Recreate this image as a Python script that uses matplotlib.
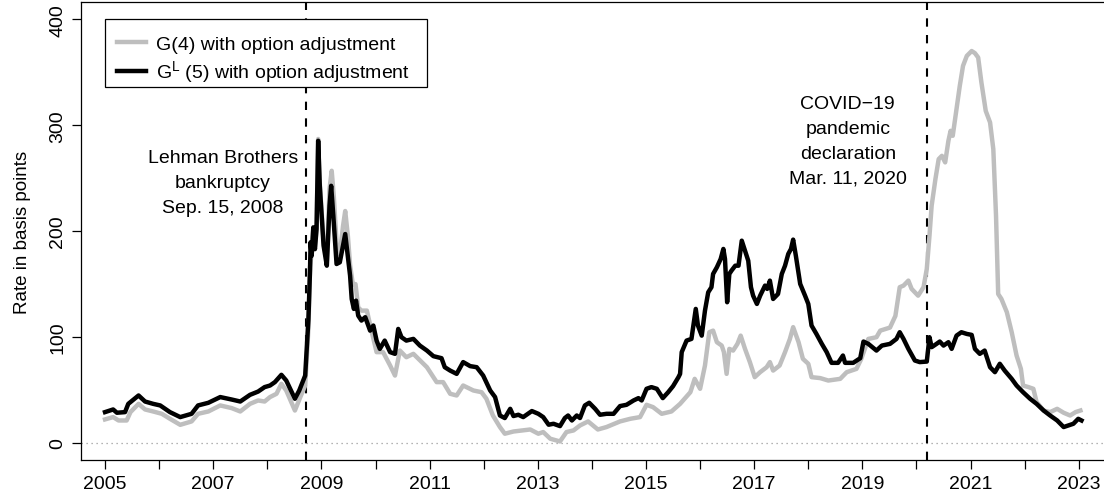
import matplotlib
matplotlib.use('Agg')
import matplotlib.pyplot as plt
from matplotlib.patches import Rectangle

plt.rcParams['font.family'] = ['Liberation Sans', 'DejaVu Sans']
plt.rcParams['mathtext.fontset'] = 'custom'
plt.rcParams['mathtext.rm'] = 'Liberation Sans'
plt.rcParams['mathtext.it'] = 'Liberation Sans:italic'

# G(4) with option adjustment (bp)
g4_t = [2005.00, 2005.15, 2005.25, 2005.40, 2005.47, 2005.62, 2005.74, 2005.89, 2006.05, 2006.20,
        2006.39, 2006.60, 2006.72, 2006.91, 2007.13, 2007.34, 2007.50, 2007.68, 2007.83, 2007.95,
        2008.05, 2008.17, 2008.26, 2008.35, 2008.51, 2008.61, 2008.70, 2008.76, 2008.79, 2008.82,
        2008.85, 2008.88, 2008.91, 2008.94, 2008.97, 2009.04, 2009.10, 2009.15, 2009.19, 2009.23,
        2009.29, 2009.34, 2009.40, 2009.44, 2009.49, 2009.53, 2009.58, 2009.63, 2009.68, 2009.74,
        2009.84, 2009.93, 2010.02, 2010.14, 2010.27, 2010.36, 2010.45, 2010.57, 2010.70, 2010.95,
        2011.13, 2011.25, 2011.38, 2011.50, 2011.62, 2011.81, 2011.96, 2012.05, 2012.17, 2012.30,
        2012.39, 2012.55, 2012.86, 2013.01, 2013.10, 2013.23, 2013.41, 2013.53, 2013.66, 2013.78,
        2013.93, 2014.11, 2014.27, 2014.52, 2014.71, 2014.89, 2015.01, 2015.13, 2015.29, 2015.47,
        2015.63, 2015.82, 2015.90, 2016.00, 2016.09, 2016.17, 2016.24, 2016.31, 2016.40, 2016.44,
        2016.49, 2016.54, 2016.61, 2016.69, 2016.75, 2016.83, 2016.92, 2017.01, 2017.11, 2017.23,
        2017.29, 2017.35, 2017.47, 2017.57, 2017.66, 2017.72, 2017.82, 2017.90, 2018.00, 2018.06,
        2018.22, 2018.37, 2018.59, 2018.71, 2018.89, 2018.98, 2019.11, 2019.26, 2019.33, 2019.51,
        2019.61, 2019.69, 2019.76, 2019.85, 2019.91, 2020.03, 2020.13, 2020.19, 2020.24, 2020.28,
        2020.35, 2020.41, 2020.47, 2020.53, 2020.59, 2020.63, 2020.67, 2020.74, 2020.80, 2020.86,
        2020.93, 2021.02, 2021.08, 2021.14, 2021.20, 2021.28, 2021.36, 2021.42, 2021.47, 2021.51,
        2021.57, 2021.67, 2021.76, 2021.85, 2021.93, 2021.97, 2022.07, 2022.16, 2022.22, 2022.35,
        2022.47, 2022.60, 2022.72, 2022.84, 2022.94, 2023.03]
g4_v = [22.3, 24.5, 21.3, 21.3, 29.2, 37.0, 31.7, 29.8, 27.6, 22.9,
        17.2, 20.4, 27.6, 29.8, 35.5, 33.0, 29.8, 37.0, 40.2, 39.2,
        43.4, 46.5, 55.9, 49.6, 30.7, 43.4, 54.3, 108, 166, 180,
        202, 185, 203, 287, 245, 190, 172, 240, 257, 232,
        180, 178, 205, 219, 195, 168, 150, 150, 128, 125,
        125, 105, 85.8, 85.8, 73.2, 63.7, 87.3, 81.0, 84.2, 71.6,
        57.5, 57.5, 46.5, 44.9, 54.3, 49.6, 48.0, 41.8, 26.0, 15.1,
        8.8, 10.9, 12.8, 8.8, 10.4, 4.1, 1.5, 10.4, 11.9, 16.6,
        20.4, 12.8, 15.1, 20.4, 22.9, 24.5, 36.1, 33.9, 27.6, 29.8,
        37.0, 48.0, 60.6, 51.2, 73.2, 104.6, 106.1, 95.2, 92.0, 85.8,
        65.3, 88.9, 87.3, 93.6, 101.4, 88.9, 76.4, 62.2, 66.9, 71.6,
        76.4, 68.4, 73.2, 85.8, 98.3, 109.4, 95.2, 79.5, 74.8, 62.2,
        61.3, 59.0, 60.6, 66.9, 70.0, 79.5, 98.3, 99.9, 106.1, 109.0,
        120.0, 147.1, 148.6, 153.3, 145.5, 139.1, 147.1, 164.3, 195.7, 224.0,
        249.2, 268.0, 271.1, 264.9, 285.3, 294.7, 290.0, 315.1, 337.1, 356.0,
        365.4, 370.0, 368.0, 363.9, 340.3, 313.5, 302.6, 277.4, 214.6, 140.7,
        136.0, 123.5, 104.6, 82.6, 70.0, 54.3, 52.8, 51.2, 38.7, 30.7,
        29.2, 32.3, 28.6, 26.0, 29.2, 30.7]

# G^L(5) with option adjustment (bp)
gl5_t = [2005.00, 2005.15, 2005.22, 2005.37, 2005.43, 2005.62, 2005.74, 2005.89, 2006.02, 2006.20,
         2006.39, 2006.60, 2006.72, 2006.91, 2007.13, 2007.34, 2007.50, 2007.68, 2007.83, 2007.95,
         2008.05, 2008.14, 2008.26, 2008.35, 2008.51, 2008.59, 2008.70, 2008.76, 2008.79, 2008.80,
         2008.82, 2008.85, 2008.88, 2008.91, 2008.94, 2008.97, 2009.04, 2009.10, 2009.15, 2009.18,
         2009.22, 2009.28, 2009.34, 2009.40, 2009.44, 2009.48, 2009.53, 2009.56, 2009.60, 2009.64,
         2009.68, 2009.74, 2009.81, 2009.90, 2009.96, 2010.02, 2010.08, 2010.17, 2010.27, 2010.36,
         2010.42, 2010.48, 2010.57, 2010.70, 2010.82, 2010.95, 2011.07, 2011.22, 2011.28, 2011.38,
         2011.50, 2011.62, 2011.75, 2011.87, 2011.99, 2012.12, 2012.21, 2012.30, 2012.39, 2012.49,
         2012.55, 2012.64, 2012.73, 2012.89, 2013.01, 2013.10, 2013.20, 2013.29, 2013.41, 2013.50,
         2013.56, 2013.63, 2013.72, 2013.78, 2013.87, 2013.95, 2014.06, 2014.15, 2014.27, 2014.40,
         2014.52, 2014.64, 2014.77, 2014.86, 2014.92, 2015.01, 2015.10, 2015.20, 2015.31, 2015.41,
         2015.50, 2015.60, 2015.63, 2015.66, 2015.75, 2015.84, 2015.92, 2015.96, 2016.03, 2016.09,
         2016.15, 2016.21, 2016.24, 2016.31, 2016.38, 2016.43, 2016.46, 2016.50, 2016.54, 2016.58,
         2016.65, 2016.71, 2016.77, 2016.83, 2016.89, 2016.94, 2016.98, 2017.05, 2017.11, 2017.20,
         2017.24, 2017.29, 2017.35, 2017.44, 2017.51, 2017.57, 2017.63, 2017.68, 2017.72, 2017.77,
         2017.85, 2017.94, 2018.00, 2018.06, 2018.15, 2018.25, 2018.34, 2018.43, 2018.55, 2018.64,
         2018.68, 2018.83, 2018.96, 2019.02, 2019.11, 2019.26, 2019.36, 2019.51, 2019.63, 2019.69,
         2019.76, 2019.85, 2019.97, 2020.06, 2020.19, 2020.24, 2020.28, 2020.37, 2020.43, 2020.50,
         2020.59, 2020.65, 2020.74, 2020.83, 2020.93, 2021.02, 2021.08, 2021.17, 2021.26, 2021.36,
         2021.45, 2021.54, 2021.63, 2021.76, 2021.85, 2021.97, 2022.10, 2022.22, 2022.35, 2022.47,
         2022.60, 2022.72, 2022.81, 2022.90, 2022.99, 2023.05]
gl5_v = [29.2, 31.7, 28.6, 29.2, 37.0, 44.9, 39.2, 37.0, 35.5, 29.2,
         24.5, 27.6, 35.5, 38.0, 43.4, 41.1, 39.2, 45.5, 48.6, 52.8,
         54.3, 57.5, 64.4, 59.0, 41.8, 49.6, 63.7, 117.0, 164.0, 189.5,
         176.8, 203.6, 183.0, 202.0, 285.3, 242.8, 186.3, 167.4, 224.0, 242.8,
         214.6, 169.0, 170.6, 186.3, 197.3, 180.0, 158.0, 136.0, 126.6, 134.4,
         120.3, 115.6, 118.8, 106.1, 110.9, 96.7, 88.9, 96.7, 85.8, 84.2,
         107.7, 99.9, 96.7, 98.3, 92.0, 87.3, 82.0, 80.1, 71.6, 68.4,
         65.3, 76.4, 72.6, 71.6, 63.7, 49.6, 43.4, 26.0, 23.6, 32.3,
         25.5, 26.7, 24.5, 30.2, 27.6, 24.5, 17.3, 18.2, 16.0, 23.6,
         26.0, 21.3, 26.0, 23.6, 35.5, 38.0, 32.3, 26.7, 27.6, 27.6,
         34.9, 36.1, 40.2, 42.4, 40.2, 51.2, 52.8, 51.2, 42.4, 48.0,
         53.7, 62.2, 65.3, 85.8, 96.7, 98.3, 126.6, 110.9, 101.4, 125.0,
         142.3, 147.1, 159.6, 165.9, 173.7, 183.2, 173.7, 132.9, 159.6, 162.7,
         167.4, 167.4, 191.0, 181.6, 172.1, 147.1, 139.1, 131.3, 139.1, 148.6,
         145.5, 153.3, 136.0, 140.7, 159.6, 167.4, 178.5, 183.2, 192.0, 176.8,
         150.2, 139.1, 131.3, 110.9, 103.0, 93.6, 85.8, 75.7, 75.7, 82.6,
         75.7, 75.7, 80.1, 95.8, 93.6, 87.3, 92.0, 93.6, 98.3, 104.6,
         98.3, 88.9, 77.9, 76.4, 76.9, 99.9, 90.5, 93.6, 95.8, 92.0,
         95.2, 88.9, 101.4, 104.6, 103.0, 102.1, 88.9, 84.2, 87.3, 71.6,
         66.9, 74.8, 68.4, 60.6, 54.3, 48.0, 41.8, 37.0, 30.7, 26.0,
         21.3, 15.1, 16.6, 18.2, 22.9, 21.3]

events = [2008.71, 2020.19]
event_text = ['Lehman Brothers\nbankruptcy\nSep. 15, 2008',
              'COVID\u221219\npandemic\ndeclaration\nMar. 11, 2020']
text_pos = [(2007.18, 246), (2018.73, 285)]

fig = plt.figure(figsize=(11.04, 5.02), dpi=100)
ax = fig.add_axes([81/1104, 41/502, 1023/1104, 457.7/502])

ax.axhline(0, color='#9a9a9a', lw=0.9, ls=(0, (1, 3)), zorder=1)
for e in events:
    ax.axvline(e, color='black', lw=1.5, ls=(0, (4, 4)), zorder=2)

ax.plot(g4_t, g4_v, color='#BEBEBE', lw=3.2, solid_joinstyle='round', zorder=3,
        label='G(4) with option adjustment')
ax.plot(gl5_t, gl5_v, color='black', lw=3.2, solid_joinstyle='round', zorder=4,
        label=r'$\mathrm{G}^{\mathrm{L}}$ (5) with option adjustment')

for (tx, ty), s in zip(text_pos, event_text):
    ax.text(tx, ty, s, ha='center', va='center', fontsize=14, linespacing=1.6)

ax.set_xlim(2004.556, 2023.466)
ax.set_ylim(-16, 416)
years = list(range(2005, 2024))
ax.set_xticks(years)
ax.set_xticklabels([str(y) if (y - 2005) % 2 == 0 else '' for y in years], fontsize=14)
ax.set_yticks([0, 100, 200, 300, 400])
ax.set_yticklabels(['0', '100', '200', '300', '400'], fontsize=14, rotation=90, va='center')
ax.tick_params(length=6.5, width=0.9, pad=4)
ax.spines['right'].set_visible(False)
for s in ['left', 'top', 'bottom']:
    ax.spines[s].set_linewidth(0.9)
ax.set_ylabel('Rate in basis points', fontsize=13.5, labelpad=13)

# legend frame drawn separately so the rows sit like base R's legend()
box = Rectangle((24/1023, (461 - 88)/457.7), 322/1023, 68/457.7, transform=ax.transAxes,
                facecolor='white', edgecolor='black', lw=0.9, zorder=9)
ax.add_patch(box)
leg = ax.legend(loc='upper left', bbox_to_anchor=(36/1023, (461 - 36)/457.7), fontsize=14,
                frameon=False, handlelength=1.5, handletextpad=0.5, borderpad=0,
                borderaxespad=0, labelspacing=0.3)
leg.set_zorder(10)

fig.savefig('out.png', dpi=100)
